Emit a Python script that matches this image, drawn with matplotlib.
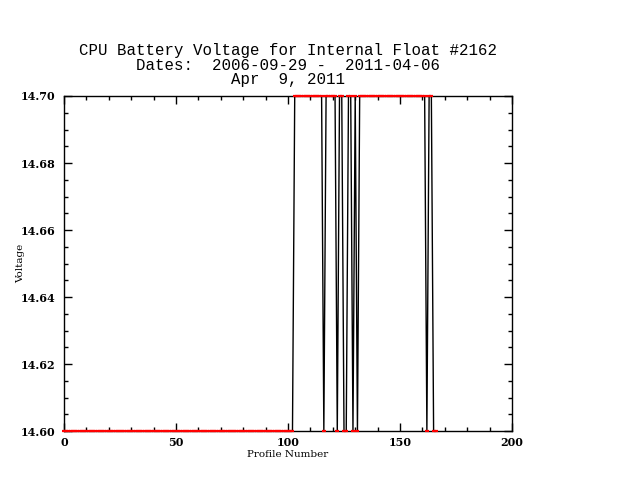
import numpy as np
import matplotlib
matplotlib.use('Agg')
import matplotlib.pyplot as plt
from matplotlib.ticker import MultipleLocator

run_lengths = [103, 13, 1, 5, 1, 2, 2, 2, 1, 1, 1, 30, 1, 2, 2]
run_levels = [14.60, 14.70, 14.60, 14.70, 14.60, 14.70, 14.60, 14.70,
              14.60, 14.70, 14.60, 14.70, 14.60, 14.70, 14.60]

title_lines = ['CPU Battery Voltage for Internal Float #2162',
               'Dates:  2006-09-29 -  2011-04-06',
               'Apr  9, 2011']

voltage = np.repeat(run_levels, run_lengths)
profile = np.arange(len(voltage))

fig = plt.figure(figsize=(6.4, 4.8), dpi=100)
ax = fig.add_axes([0.1, 0.102, 0.7, 0.698])

ax.plot(profile, voltage, '-', color='black', lw=1, zorder=2)
ax.plot(profile, voltage, '_', color='red', markersize=3.5, markeredgewidth=1.6,
        clip_on=False, zorder=3)

ax.set_xlim(0, 200)
ax.set_ylim(14.60, 14.70)
ax.xaxis.set_major_locator(MultipleLocator(50))
ax.xaxis.set_minor_locator(MultipleLocator(10))
ax.yaxis.set_major_locator(MultipleLocator(0.02))
ax.yaxis.set_minor_locator(MultipleLocator(0.005))
ax.yaxis.set_major_formatter(plt.FormatStrFormatter('%.2f'))

ax.tick_params(which='both', direction='in', top=True, right=True, width=1)
ax.tick_params(which='major', length=5.5)
ax.tick_params(which='minor', length=2.8)
for lab in ax.get_xticklabels() + ax.get_yticklabels():
    lab.set_family('DejaVu Serif')
    lab.set_fontweight('bold')
    lab.set_fontsize(8)
ax.tick_params(axis='x', pad=4)
ax.tick_params(axis='y', pad=6)
for sp in ax.spines.values():
    sp.set_linewidth(1)

ax.set_xlabel('Profile Number', family='DejaVu Serif', fontsize=7.5, labelpad=2)
ax.set_ylabel('Voltage', family='DejaVu Serif', fontsize=7.5)
ax.yaxis.set_label_coords(-0.087, 0.5)

for txt, yb in zip(title_lines, [55, 70, 84]):
    fig.text(288 / 640, 1 - yb / 480, txt, ha='center', va='baseline',
             family='Liberation Mono', fontsize=11.3)

fig.savefig('out.png', dpi=100, facecolor='white')
